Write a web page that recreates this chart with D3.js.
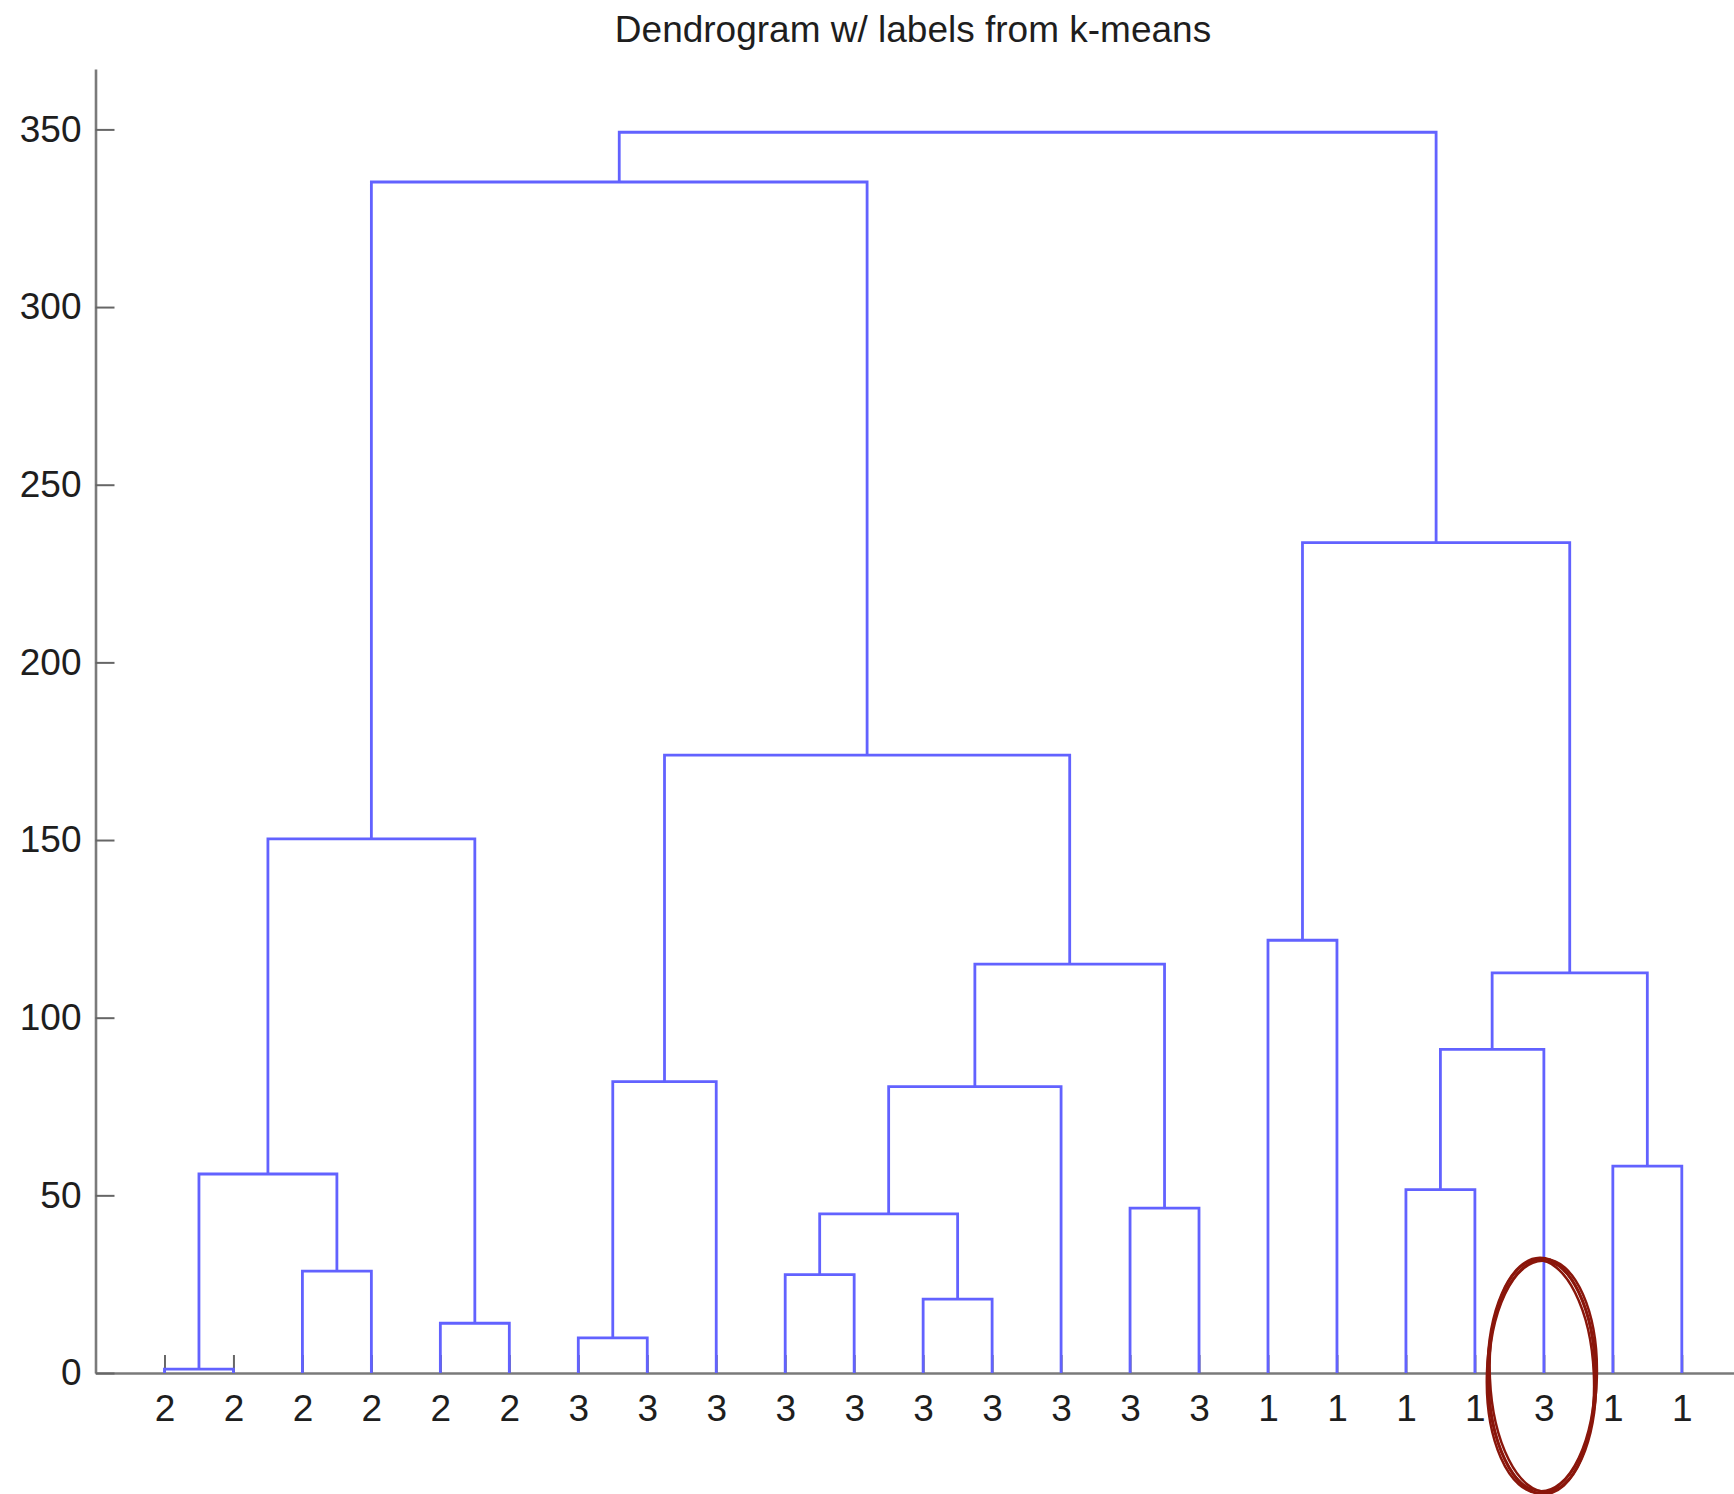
<!DOCTYPE html>
<html lang="en">
	<head>
		<meta charset="utf-8">
		<title>Dendrogram w/ labels from k-means</title>
		<script type="text/javascript" src="https://cdn.jsdelivr.net/npm/d3@7"></script>
		<style type="text/css">
			body { margin: 0; background: #fff; }
			svg text { font-family: "Liberation Sans", Arial, Helvetica, sans-serif; }
		</style>
	</head>
	<body>
		<script type="text/javascript">

            // Width and height
            var w = 1734;
            var h = 1494;

            // k-means label of each leaf, in dendrogram order
            var leafLabels = ["2","2","2","2","2","2","3","3","3","3","3","3",
                              "3","3","3","3","1","1","1","1","3","1","1"];

            // linkage rows: [node a, node b, height]; leaves are 1..23, new clusters get 24, 25, ...
            var linkage = [
                [1, 2, 1.1],
                [7, 8, 9.9],
                [5, 6, 14.0],
                [12, 13, 20.8],
                [10, 11, 27.7],
                [3, 4, 28.7],
                [28, 27, 44.8],
                [15, 16, 46.4],
                [19, 20, 51.6],
                [24, 29, 56.0],
                [22, 23, 58.2],
                [30, 14, 80.6],
                [25, 9, 82.0],
                [32, 21, 91.1],
                [37, 34, 112.6],
                [35, 31, 115.1],
                [17, 18, 121.8],
                [33, 26, 150.3],
                [36, 39, 173.9],
                [40, 38, 233.7],
                [41, 42, 335.2],
                [44, 43, 349.2]
            ];

            var yTicks = [0, 50, 100, 150, 200, 250, 300, 350];
            var yMax = 367;
            var circledLeaf = 21;   // the odd "3" among the 1s

            var svg = d3.select("body")
                .append("svg")
                .attr("width", w)
                .attr("height", h);

            var n = leafLabels.length;
            var x = d3.scaleLinear().domain([0, n + 1]).range([95.5, 95.5 + (n + 1) * 68.97]);
            var y = d3.scaleLinear().domain([0, yMax]).range([1373, 69]);

            // Axes (drawn first so the blue links sit on top of the inward ticks)
            var xAxis = d3.axisBottom(x)
                .tickValues(d3.range(1, n + 1))
                .tickFormat(function(d) { return leafLabels[d - 1]; })
                .tickSizeInner(-18)
                .tickSizeOuter(0)
                .tickPadding(22);

            var yAxis = d3.axisLeft(y)
                .tickValues(yTicks)
                .tickSizeInner(-19)
                .tickSizeOuter(0)
                .tickPadding(14);

            var gx = svg.append("g")
                .attr("transform", "translate(0," + y(0) + ")")
                .call(xAxis);

            var gy = svg.append("g")
                .attr("transform", "translate(" + x(0) + ",0)")
                .call(yAxis);

            [gx, gy].forEach(function(g) {
                g.select(".domain").attr("stroke", "#7a7a7a").attr("stroke-width", 2.6);
                g.selectAll(".tick line").attr("stroke", "#666").attr("stroke-width", 2);
                g.selectAll(".tick text")
                    .attr("fill", "#1e1e1e")
                    .style("font-size", "37px");
            });

            // Positions of every node: leaves sit at 1..n, clusters at the mean of their children
            var nodeX = {}, nodeH = {};
            for (var i = 1; i <= n; i++) {
                nodeX[i] = i;
                nodeH[i] = 0;
            }
            linkage.forEach(function(row, k) {
                var id = n + 1 + k;
                nodeX[id] = (nodeX[row[0]] + nodeX[row[1]]) / 2;
                nodeH[id] = row[2];
            });

            // Draw the links
            svg.append("g")
                .selectAll("path")
                .data(linkage)
                .enter()
                .append("path")
                .attr("d", function(row) {
                    var a = row[0], b = row[1];
                    return "M" + x(nodeX[a]) + "," + y(nodeH[a]) +
                           "V" + y(row[2]) +
                           "H" + x(nodeX[b]) +
                           "V" + y(nodeH[b]);
                })
                .attr("fill", "none")
                .attr("stroke", "#6262ff")
                .attr("stroke-width", 2.8);

            // Title
            svg.append("text")
                .attr("x", 913)
                .attr("y", 42)
                .attr("text-anchor", "middle")
                .attr("fill", "#1e1e1e")
                .style("font-size", "37px")
                .text("Dendrogram w/ labels from k-means");

            // Hand-drawn red ring round the misplaced leaf
            var ring = [
                { rx: 52, ry: 116, rot: -2.5, sw: 2.5 },
                { rx: 54, ry: 118, rot: -1, sw: 3 },
                { rx: 55, ry: 117, rot: 1.5, sw: 2.5 },
                { rx: 53, ry: 115, rot: 0.5, sw: 2 }
            ];
            svg.append("g")
                .selectAll("ellipse")
                .data(ring)
                .enter()
                .append("ellipse")
                .attr("cx", 0)
                .attr("cy", 0)
                .attr("rx", function(d) { return d.rx; })
                .attr("ry", function(d) { return d.ry; })
                .attr("transform", function(d) {
                    return "translate(" + (x(circledLeaf) - 2) + ",1376) rotate(" + d.rot + ")";
                })
                .attr("fill", "none")
                .attr("stroke", "#8a160b")
                .attr("stroke-width", function(d) { return d.sw; });

		</script>
	</body>
</html>
